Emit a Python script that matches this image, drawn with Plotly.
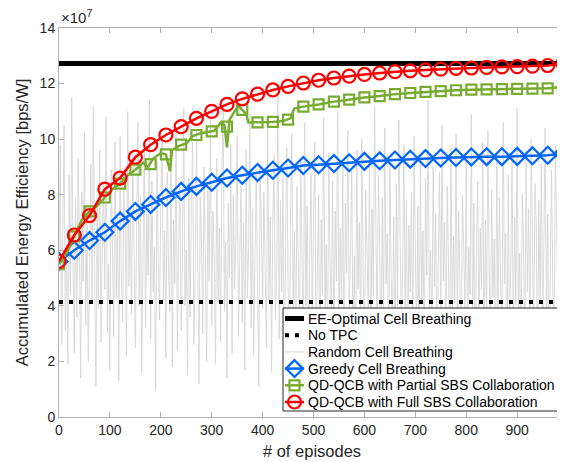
import plotly.graph_objects as go

SCALE_LABEL = "×10<sup>7</sup>"

# values in units of 1e7 bps/W
ee_optimal = 12.72
no_tpc = 4.14

marker_eps = list(range(0, 1000, 30))

greedy = [5.6, 6.0, 6.35, 6.65, 7.05, 7.4, 7.65, 7.9, 8.12, 8.3, 8.45, 8.6, 8.7, 8.8,
          8.88, 8.96, 9.05, 9.08, 9.12, 9.15, 9.2, 9.22, 9.25, 9.28, 9.3, 9.32, 9.34,
          9.36, 9.37, 9.37, 9.38, 9.4, 9.42, 9.48]

full_sbs = [5.6, 6.55, 7.25, 8.2, 8.6, 9.35, 9.8, 10.15, 10.45, 10.75, 11.0, 11.25, 11.45,
            11.62, 11.77, 11.9, 12.02, 12.12, 12.2, 12.27, 12.33, 12.38, 12.43, 12.46,
            12.49, 12.52, 12.55, 12.56, 12.58, 12.6, 12.61, 12.63, 12.65, 12.72]

partial_eps = [0, 15, 30, 45, 60, 75, 90, 105, 120, 135, 150, 165, 175, 185, 200, 210, 218,
               222, 235, 250, 262, 275, 290, 305, 318, 325, 330, 335, 345, 352, 360, 368,
               372, 385, 400, 420, 440, 455, 462, 480, 510, 540, 570, 600, 630, 660, 690,
               720, 750, 780, 810, 840, 870, 900, 930, 960, 990]
partial_vals = [5.5, 5.9, 6.5, 7.1, 7.4, 7.6, 7.9, 8.2, 8.4, 8.7, 8.9, 9.15, 9.0, 9.3, 9.5,
                9.45, 8.85, 9.6, 9.75, 9.85, 10.1, 10.2, 10.25, 10.3, 10.6, 10.5, 9.7, 10.7,
                11.0, 11.2, 11.05, 10.9, 10.6, 10.6, 10.6, 10.62, 10.65, 10.75, 11.1, 11.17,
                11.25, 11.35, 11.42, 11.5, 11.55, 11.62, 11.66, 11.7, 11.73, 11.76, 11.78,
                11.79, 11.8, 11.81, 11.82, 11.83, 11.88]
partial_markers = [5.5, 6.5, 7.4, 7.9, 8.4, 8.9, 9.1, 9.45, 9.8, 10.15, 10.28, 10.45, 11.05,
                   10.6, 10.62, 10.7, 11.17, 11.25, 11.35, 11.42, 11.5, 11.55, 11.62, 11.66,
                   11.7, 11.73, 11.76, 11.78, 11.79, 11.8, 11.81, 11.82, 11.83, 11.88]

random_vals = [
    5.2, 9.8, 2.6, 7.4, 10.5, 3.1, 6.2, 1.9, 8.7, 4.4, 11.5, 5.8, 2.3, 7.9, 3.6, 9.3, 6.5, 1.4, 8.1, 4.9,
    10.2, 3.3, 7.0, 2.0, 6.6, 9.1, 4.1, 11.2, 5.3, 1.1, 7.7, 3.9, 9.6, 2.7, 6.0, 8.4, 4.6, 10.8, 3.0, 5.5,
    1.7, 8.9, 6.3, 2.9, 9.9, 4.3, 7.2, 1.3, 10.1, 5.0, 3.4, 8.2, 6.8, 2.2, 11.0, 4.7, 7.5, 3.7, 9.4, 5.9,
    2.5, 6.9, 10.6, 4.0, 8.0, 1.6, 6.4, 9.7, 3.2, 7.3, 5.1, 11.4, 2.8, 8.5, 4.5, 6.1, 1.0, 9.2, 5.6, 3.5,
    7.8, 10.0, 4.2, 6.7, 2.1, 8.8, 5.4, 3.8, 9.5, 1.8, 7.1, 4.8, 10.4, 2.4, 6.5, 8.3, 3.1, 5.7, 11.1, 4.0,
    6.0, 1.5, 8.6, 3.6, 7.6, 9.9, 2.6, 5.2, 10.3, 4.4, 1.2, 7.9, 6.2, 3.0, 9.0, 5.5, 2.0, 8.2, 4.9, 10.7,
    3.3, 7.4, 5.8, 1.9, 9.3, 4.1, 6.8, 2.7, 8.9, 11.3, 3.8, 6.3, 1.4, 7.7, 5.0, 9.8, 2.3, 8.0, 4.6, 6.6,
    10.1, 2.9, 5.3, 8.4, 3.4, 7.0, 1.7, 9.6, 4.3, 6.1, 10.9, 3.2, 7.5, 2.2, 5.9, 8.7, 4.7, 1.1, 9.1, 6.4,
    3.9, 8.1, 5.6, 2.5, 10.5, 4.2, 7.2, 1.6, 6.9, 9.4, 3.5, 5.1, 11.6, 2.8, 7.8, 4.5, 8.6, 1.3, 6.0, 9.7,
    4.8, 2.1, 7.3, 10.2, 3.7, 6.7, 1.8, 8.3, 5.4, 3.0, 9.2, 6.3, 2.4, 10.6, 4.0, 7.6, 1.5, 5.7, 8.8, 3.6,
    6.5, 9.9, 2.6, 5.0, 8.0, 1.0, 7.1, 4.4, 10.8, 3.3, 6.2, 2.0, 9.5, 5.5, 3.9, 8.5, 1.7, 7.4, 4.9, 11.0,
    2.9, 6.8, 4.1, 9.0, 1.4, 7.7, 5.2, 10.3, 3.4, 6.0, 8.9, 2.3, 5.8, 1.2, 9.6, 4.6, 7.0, 3.1, 10.0, 5.3,
    1.9, 8.2, 6.4, 3.7, 9.3, 2.5, 7.5, 4.3, 11.2, 5.6, 2.7, 8.7, 6.1, 1.6, 7.9, 3.5, 10.4, 4.8, 6.6, 2.2,
    9.1, 5.0, 3.2, 7.2, 1.3, 8.4, 4.0, 10.7, 6.3, 2.8, 5.4, 9.8, 3.6, 7.8, 1.8, 6.9, 4.5, 8.1, 2.4, 10.1,
    5.9, 3.0, 7.6, 1.1, 9.4, 4.2, 6.7, 2.1, 8.6, 5.1, 11.4, 3.8, 6.0, 2.6, 9.0, 4.7, 7.3, 1.5, 5.6, 8.8,
    3.4, 10.5, 4.9, 7.0, 2.0, 8.3, 5.7, 1.9, 9.7, 3.3, 6.5, 4.1, 10.2, 2.7, 7.4, 5.2, 1.4, 8.0, 6.2, 3.9,
    9.2, 2.3, 6.1, 4.4, 10.9, 3.1, 7.7, 1.2, 5.8, 8.5, 2.9, 6.8, 4.6, 9.9, 1.7, 7.1, 3.5, 10.3, 5.3, 2.5,
    8.2, 4.3, 6.4, 1.6, 9.5, 3.7, 7.9, 5.0, 2.2, 10.6, 4.8, 6.6, 1.0, 8.7, 3.2, 5.5, 9.3, 2.8, 7.2, 4.0,
    11.1, 3.6, 5.9, 2.1, 8.0, 6.3, 1.5, 9.6, 4.5, 7.5, 2.6, 10.0, 5.1, 3.0, 8.4, 6.9, 1.8, 7.8, 4.2, 9.1,
    2.4, 6.0, 10.4, 3.4, 7.3, 1.3, 5.4, 8.9, 4.7, 2.9, 9.8, 6.2, 3.8, 7.6, 1.9, 8.6, 5.0, 10.7, 3.3, 6.4,
]
random_eps = [i * 2.5 for i in range(len(random_vals))]

x_ticks = [0, 100, 200, 300, 400, 500, 600, 700, 800, 900]
y_ticks = [0, 2, 4, 6, 8, 10, 12, 14]

names = ["EE-Optimal Cell Breathing", "No TPC", "Random Cell Breathing",
         "Greedy Cell Breathing", "QD-QCB with Partial SBS Collaboration",
         "QD-QCB with Full SBS Collaboration"]

BLUE = "#0066ff"
GREEN = "#77ac30"
RED = "#ff0000"
GRAY = "#d6d6d6"

# styles per series (legend order)
line_styles = [
    dict(color="black", width=5),
    dict(color="black", width=4, dash="4px,6px"),
    dict(color=GRAY, width=1),
    dict(color=BLUE, width=2.5),
    dict(color=GREEN, width=2.5),
    dict(color=RED, width=2.5),
]
marker_styles = [
    None, None, None,
    dict(symbol="diamond-open", size=13, color=BLUE, line=dict(width=2.2, color=BLUE)),
    dict(symbol="square-open", size=10, color=GREEN, line=dict(width=2.2, color=GREEN)),
    dict(symbol="circle-open", size=13, color=RED, line=dict(width=2.2, color=RED)),
]

fig = go.Figure()

fig.add_trace(go.Scatter(x=random_eps, y=random_vals, mode="lines", line=dict(color=GRAY, width=0.9)))
fig.add_trace(go.Scatter(x=[0, 1000], y=[ee_optimal, ee_optimal], mode="lines", line=line_styles[0]))
fig.add_trace(go.Scatter(x=[0, 1000], y=[no_tpc, no_tpc], mode="lines", line=line_styles[1]))
fig.add_trace(go.Scatter(x=marker_eps, y=greedy, mode="lines+markers",
                         line=line_styles[3], marker=marker_styles[3]))
fig.add_trace(go.Scatter(x=partial_eps, y=partial_vals, mode="lines", line=line_styles[4]))
fig.add_trace(go.Scatter(x=marker_eps, y=partial_markers, mode="markers", marker=marker_styles[4]))
fig.add_trace(go.Scatter(x=marker_eps, y=full_sbs, mode="lines+markers",
                         line=line_styles[5], marker=marker_styles[5]))

# ---- legend box drawn on an overlay axis in plot-fraction units ----
PX_L, PX_T, PW, PH = 59, 28, 506, 389


def fx(px):
    return (px - PX_L) / PW


def fy(py):
    return (PX_T + PH - py) / PH


box_x = [fx(283), fx(561), fx(561), fx(283), fx(283)]
box_y = [fy(308), fy(308), fy(411), fy(411), fy(308)]
fig.add_trace(go.Scatter(x=box_x, y=box_y, mode="lines", fill="toself", fillcolor="white",
                         line=dict(color="#262626", width=1), xaxis="x2", yaxis="y2",
                         hoverinfo="skip"))

row_py = [318.5, 335.2, 351.9, 368.6, 385.3, 402.0]
annotations = []
for i, name in enumerate(names):
    yy = fy(row_py[i])
    fig.add_trace(go.Scatter(x=[fx(285), fx(304)], y=[yy, yy], mode="lines",
                             line=line_styles[i], xaxis="x2", yaxis="y2", hoverinfo="skip"))
    if marker_styles[i] is not None:
        fig.add_trace(go.Scatter(x=[fx(294.5)], y=[yy], mode="markers",
                                 marker=marker_styles[i], xaxis="x2", yaxis="y2",
                                 hoverinfo="skip"))
    annotations.append(dict(text=name, xref="paper", yref="paper", x=fx(305.5), y=yy,
                            xanchor="left", yanchor="middle", showarrow=False,
                            font=dict(size=14, color="black")))

annotations.append(dict(text=SCALE_LABEL, xref="paper", yref="paper", x=0, y=1,
                        xanchor="left", yanchor="bottom", showarrow=False,
                        font=dict(size=15, color="#262626")))

axis_common = dict(showline=True, mirror="ticks", linecolor="#b0b0b0", linewidth=1,
                   ticks="inside", ticklen=5, tickcolor="#b0b0b0", showgrid=False,
                   zeroline=False, tickfont=dict(size=14, color="#262626"))

fig.update_layout(
    width=557, height=454,
    margin=dict(l=51, r=0, t=20, b=45),
    paper_bgcolor="white", plot_bgcolor="white",
    font=dict(family="Liberation Sans, Arial, sans-serif", color="#262626"),
    xaxis=dict(range=[0, 994], tickvals=x_ticks,
               title=dict(text="# of episodes", font=dict(size=16.5), standoff=8),
               **axis_common),
    yaxis=dict(range=[0, 14], tickvals=y_ticks,
               title=dict(text="Accumulated Energy Efficiency [bps/W]", font=dict(size=16.5), standoff=6),
               **axis_common),
    xaxis2=dict(overlaying="x", range=[0, 1], visible=False, fixedrange=True),
    yaxis2=dict(overlaying="y", range=[0, 1], visible=False, fixedrange=True),
    annotations=annotations,
    showlegend=False,
)

fig.write_html("out.html")
